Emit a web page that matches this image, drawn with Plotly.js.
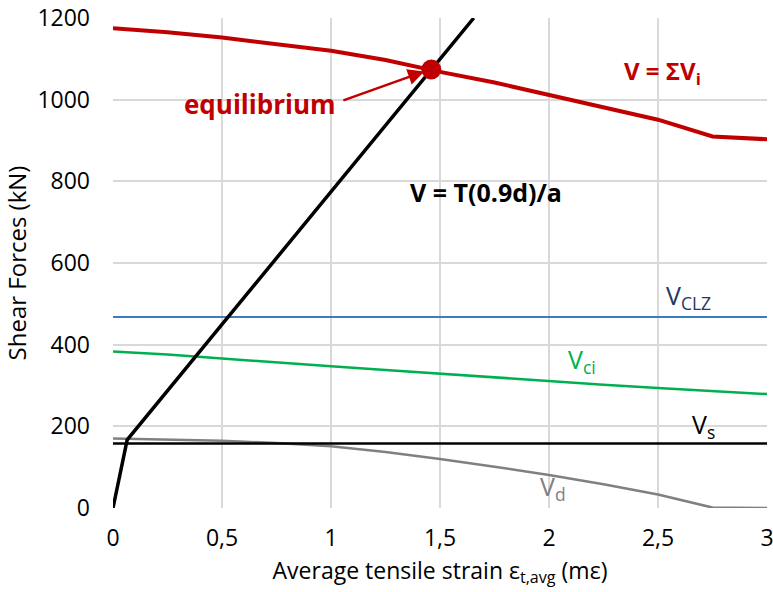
<!DOCTYPE html>
<html><head><meta charset="utf-8">
<script src="https://cdn.plot.ly/plotly-3.0.1.min.js"></script>
<style>body{margin:0;background:#fff}#chart{width:773px;height:592px}</style>
</head><body><div id="chart"></div>
<script>
const strain = [0, 0.25, 0.5, 0.75, 1, 1.25, 1.5, 1.75, 2, 2.25, 2.5, 2.75, 3];
const vSum = [1175, 1165, 1152, 1137, 1120, 1097, 1068, 1042, 1012, 983, 951, 910, 903];
const vCi = [383, 376, 366, 356, 347, 338, 329, 320, 310, 302, 294, 287, 279];
const vD = [170, 168, 165, 159, 151, 137, 120, 101, 81, 58, 33, 1, 0];
const vClzX = [0, 3];
const vClz = [468, 468];
const vsX = [0, 3];
const vS = [158, 158];
const tX = [0, 0.065, 1.655];
const tV = [0, 167, 1200];
const eqX = [1.46];
const eqV = [1074];
const xTicks = [0, 0.5, 1, 1.5, 2, 2.5, 3];
const xTickText = ['0', '0,5', '1', '1,5', '2', '2,5', '3'];

const F = 'Open Sans, Liberation Sans, sans-serif';
const traces = [
  {x: vClzX, y: vClz, mode: 'lines', line: {color: '#3C7DC0', width: 2}},
  {x: strain, y: vCi, mode: 'lines', line: {color: '#00B050', width: 2.5}},
  {x: strain, y: vD, mode: 'lines', line: {color: '#808080', width: 2.5}},
  {x: vsX, y: vS, mode: 'lines', line: {color: '#000000', width: 2.5}},
  {x: strain, y: vSum, mode: 'lines', line: {color: '#C00000', width: 4}},
  {x: tX, y: tV, mode: 'lines', line: {color: '#000000', width: 3.5}},
  {x: eqX, y: eqV, mode: 'markers', marker: {color: '#C00000', size: 20}}
];
const layout = {
  width: 773, height: 592,
  margin: {l: 113, r: 6, t: 18, b: 84},
  showlegend: false,
  paper_bgcolor: '#fff', plot_bgcolor: '#fff',
  font: {family: F, color: '#000', size: 22},
  xaxis: {range: [0, 3], tickvals: xTicks, ticktext: xTickText, showgrid: true, gridcolor: '#d9d9d9', gridwidth: 2,
    zeroline: false, showline: false, ticks: '', tickfont: {size: 23}, ticklabelstandoff: 14, ticklabeloverflow: 'allow',
    title: {text: 'Average tensile strain ε<sub>t,avg</sub> (mε)', font: {size: 23}, standoff: 10}},
  yaxis: {range: [0, 1200], dtick: 200, showgrid: true, gridcolor: '#d9d9d9', gridwidth: 2,
    zeroline: false, showline: false, ticks: '', tickfont: {size: 23}, ticklabelstandoff: 22,
    title: {text: 'Shear Forces (kN)', font: {size: 24}, standoff: 6}},
  annotations: [
    {x: 1.428, y: 1069, ax: 1.05, ay: 997, axref: 'x', ayref: 'y', xref: 'x', yref: 'y', text: '',
      showarrow: true, arrowcolor: '#C00000', arrowwidth: 2.5, arrowhead: 2, arrowsize: 1.3},
    {x: 0.672, y: 990, text: '<b>equilibrium</b>', showarrow: false, font: {size: 26, color: '#C00000'}},
    {x: 2.52, y: 1068, text: '<b>V = ΣV<sub>i</sub></b>', showarrow: false, font: {size: 24, color: '#C00000'}},
    {x: 1.71, y: 775, text: '<b>V = T(0.9d)/a</b>', showarrow: false, font: {size: 25, color: '#000'}},
    {x: 2.64, y: 517, text: 'V<sub>CLZ</sub>', showarrow: false, font: {size: 25, color: '#1F3864'}},
    {x: 2.15, y: 362, text: 'V<sub>ci</sub>', showarrow: false, font: {size: 25, color: '#00B050'}},
    {x: 2.71, y: 202, text: 'V<sub>s</sub>', showarrow: false, font: {size: 25, color: '#000'}},
    {x: 2.02, y: 50, text: 'V<sub>d</sub>', showarrow: false, font: {size: 25, color: '#808080'}}
  ]
};
Plotly.newPlot('chart', traces, layout, {staticPlot: true});
</script></body></html>
